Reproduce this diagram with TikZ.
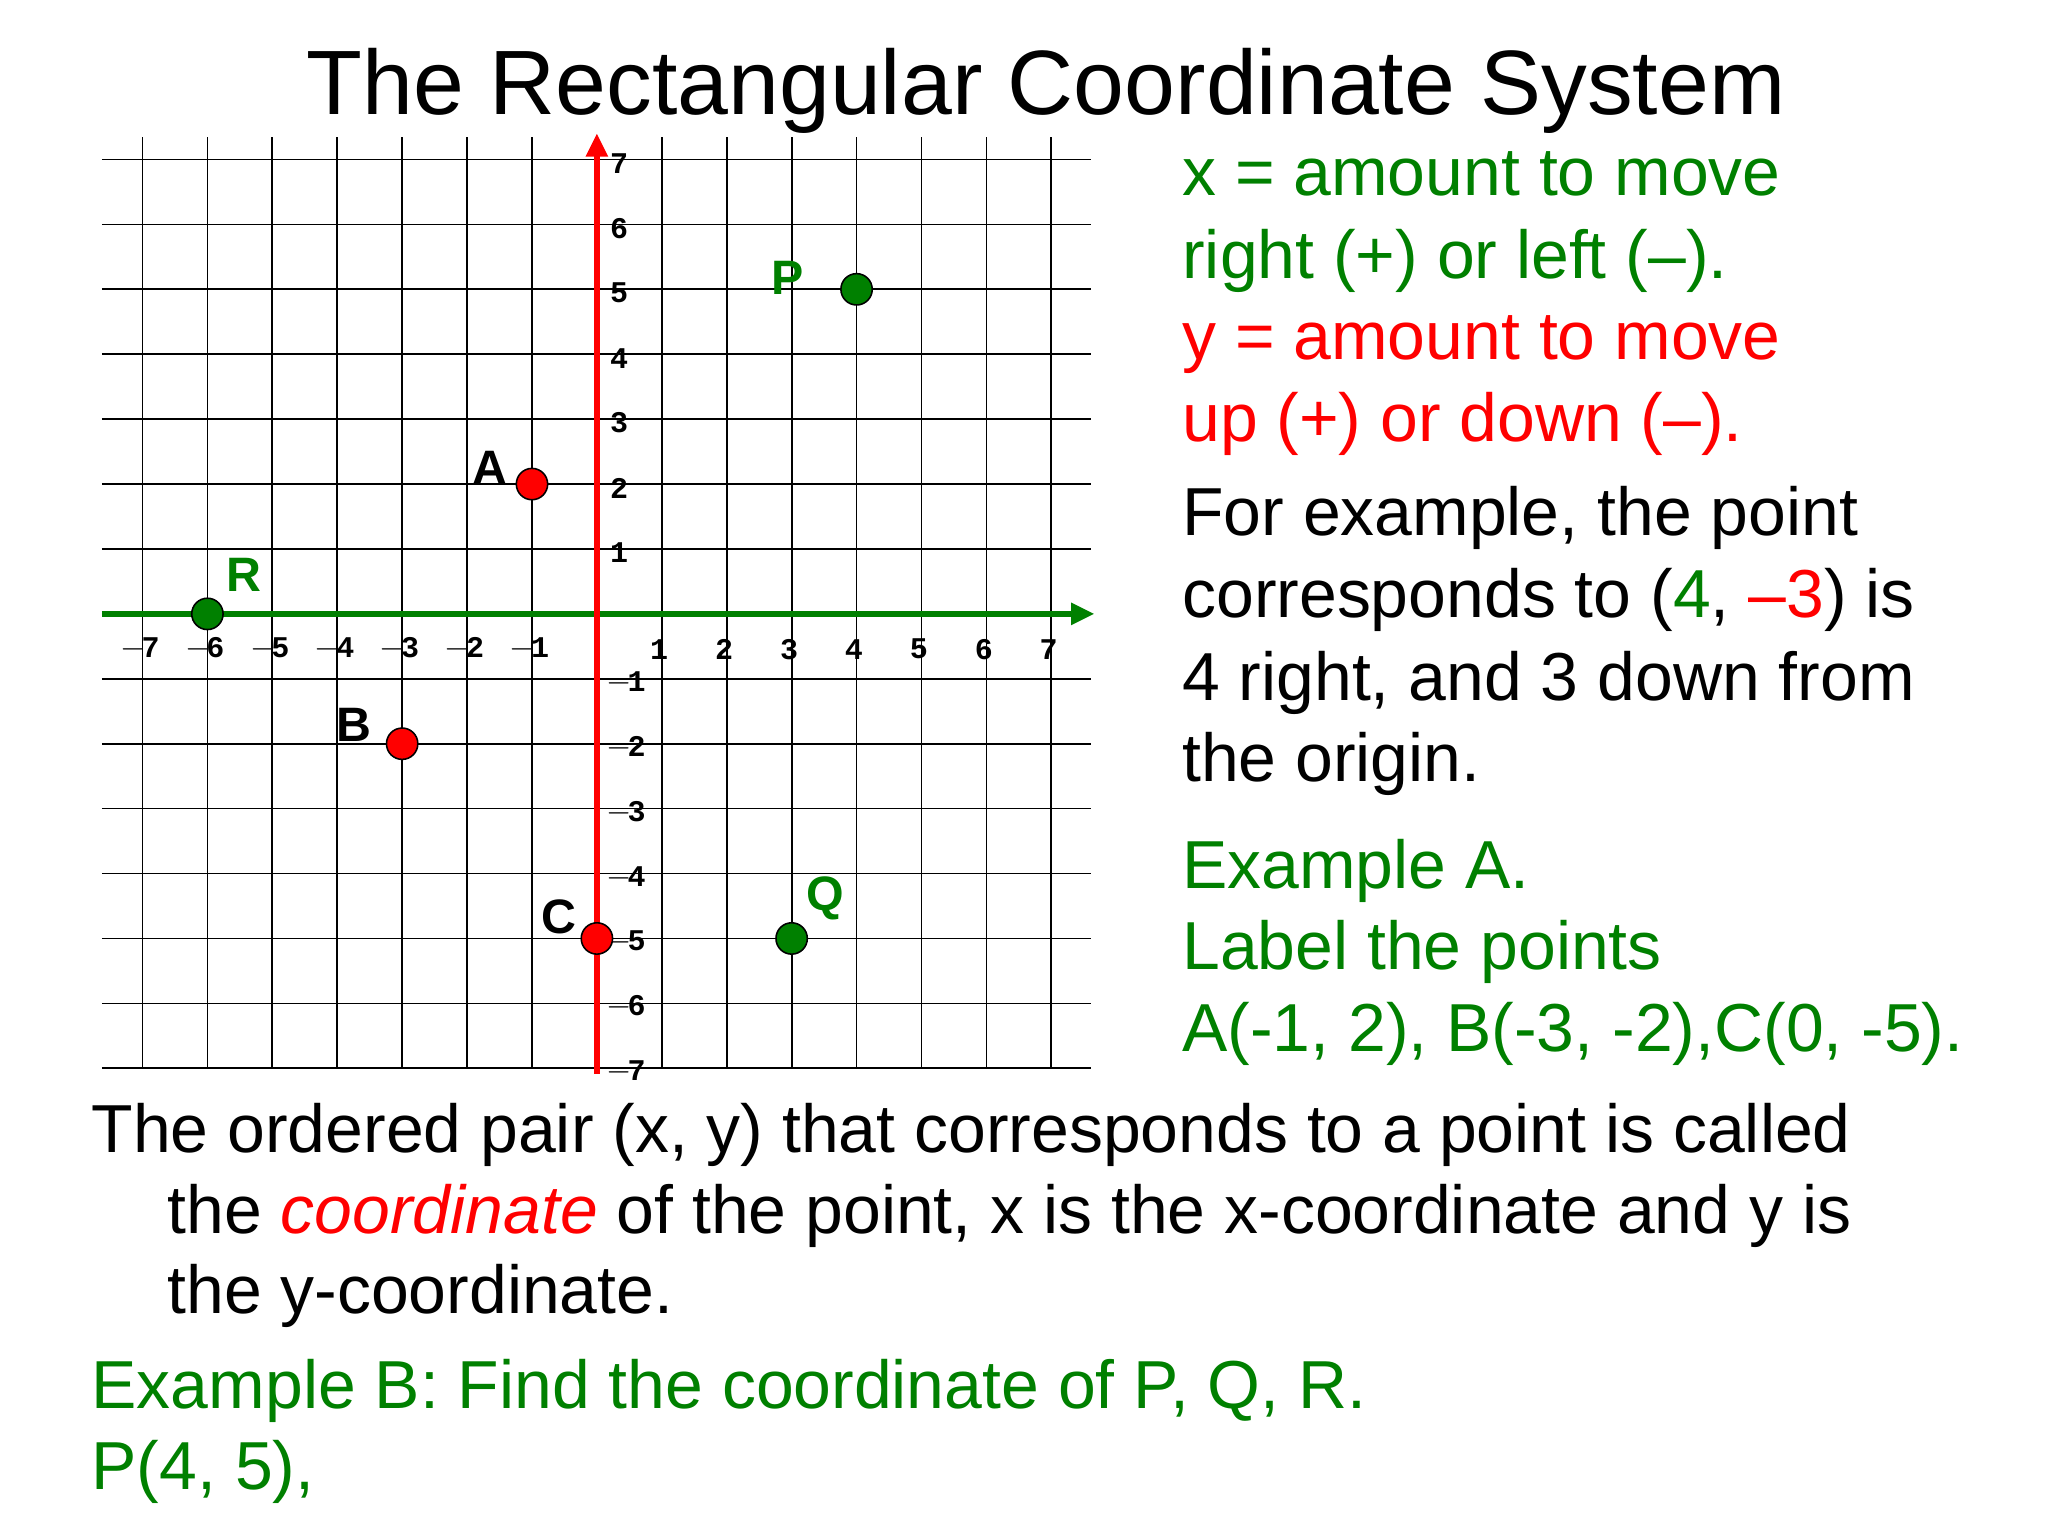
\documentclass[tikz,border=0pt]{standalone}
\usepackage{fontspec}
\setmainfont{Liberation Sans}
\newfontfamily\tick{Liberation Mono}
\usetikzlibrary{arrows.meta}
\definecolor{gr}{RGB}{0,128,0}
\definecolor{rd}{RGB}{255,0,0}
\begin{document}
\begin{tikzpicture}[x=1pt,y=-1pt,
  txt/.style={anchor=base west,inner sep=0,font=\fontsize{52}{60}\selectfont},
  tk/.style={font=\tick\bfseries\fontsize{23}{23}\selectfont,inner sep=0},
  pt/.style={circle,draw=black,line width=1.2pt,minimum size=24pt,inner sep=0},
  lab/.style={font=\bfseries\fontsize{37}{37}\selectfont,inner sep=0}]
\useasboundingbox (0,0) rectangle (1568,1176);
\def\ox{457}\def\oy{470}\def\u{49.7}
% grid
\foreach \i in {-7,...,7}{
  \draw[line width=1.3pt] (\ox+\i*\u,105) -- (\ox+\i*\u,818);
  \draw[line width=1.3pt] (78,\oy-\i*\u) -- (835,\oy-\i*\u);}
% axes
\coordinate (xl) at (78,\oy); \coordinate (xr) at (838,\oy);
\coordinate (yb) at (\ox,822); \coordinate (yt) at (\ox,102);
\draw[gr,line width=5pt,-{Triangle[length=18pt,width=16pt]}] (xl) -- (xr);
\draw[rd,line width=5pt,-{Triangle[length=18pt,width=16pt]}] (yb) -- (yt);
% ticks
\foreach \i in {1,...,7}{
  \node[tk] (xn\i) at (\ox-\i*\u-2,497) {$-$\kern-3pt\i};
  \node[tk] (xp\i) at (\ox+\i*\u-2,497) {\i};
  \node[tk,anchor=west] (yp\i) at (\ox+10,\oy-\i*\u+3) {\i};
  \node[tk,anchor=west] (yn\i) at (\ox+7,\oy+\i*\u+3) {$-$\kern-3pt\i};}
% points
\node[pt,fill=gr] (P) at (\ox+4*\u,\oy-5*\u) {};
\node[pt,fill=gr] (Q) at (\ox+3*\u,\oy+5*\u) {};
\node[pt,fill=gr] (R) at (\ox-6*\u,\oy) {};
\node[pt,fill=rd] (A) at (\ox-1*\u,\oy-2*\u) {};
\node[pt,fill=rd] (B) at (\ox-3*\u,\oy+2*\u) {};
\node[pt,fill=rd] (C) at (\ox,\oy+5*\u) {};
\node[lab,gr] (Pl) at (603,213) {P};
\node[lab,gr] (Ql) at (632,688) {Q};
\node[lab,gr] (Rl) at (187,440) {R};
\node[lab] (Al) at (375,358) {A};
\node[lab] (Bl) at (271,555) {B};
\node[lab] (Cl) at (428,702) {C};
% title
\node[anchor=base,inner sep=0,font=\fontsize{70}{70}\selectfont] (title) at (801,88) {The Rectangular Coordinate System};
% right text
\node[txt,gr] (r1) at (905,150) {x = amount to move};
\node[txt,gr] (r2) at (905,213) {right (+) or left (–).};
\node[txt,rd] (r3) at (905,275) {y = amount to move};
\node[txt,rd] (r4) at (905,338) {up (+) or down (–).};
\node[txt] (r5) at (905,410) {For example, the point};
\node[txt] (r6) at (905,473) {corresponds to (\textcolor{gr}{4}, \textcolor{rd}{–3}) is};
\node[txt] (r7) at (905,536) {4 right, and 3 down from};
\node[txt] (r8) at (905,598) {the origin.};
\node[txt,gr] (r9) at (905,680) {Example A.};
\node[txt,gr] (r10) at (905,742) {Label the points};
\node[txt,gr] (r11) at (905,805) {A(-1, 2), B(-3, -2),C(0, -5).};
% bottom text
\node[txt] (b1) at (70,882) {The ordered pair (x, y) that corresponds to a point is called};
\node[txt] (b2) at (128,944) {the \textcolor{rd}{\itshape coordinate} of the point, x is the x-coordinate and y is};
\node[txt] (b3) at (128,1006) {the y-coordinate.};
\node[txt,gr] (b4) at (70,1078) {Example B: Find the coordinate of P, Q, R.};
\node[txt,gr] (b5) at (70,1140) {P(4, 5),};
\end{tikzpicture}
\end{document}
